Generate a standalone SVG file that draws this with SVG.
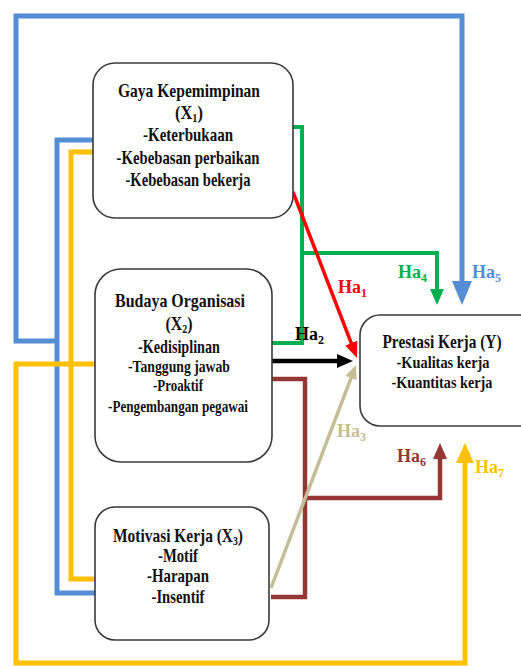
<svg xmlns="http://www.w3.org/2000/svg" width="521" height="666" viewBox="0 0 521 666">
<style>
  .box { fill: #ffffff; stroke: #3a3a3a; stroke-width: 1.6; }
  .t { font-family: "Liberation Serif", "Times New Roman", serif; font-weight: bold; font-size: 19px; fill: #111111; text-anchor: middle; }
  .s { font-size: 17px; }
  .ha { font-family: "Liberation Serif", "Times New Roman", serif; font-weight: bold; font-size: 18px; }
  .sub { font-size: 12px; }
  .c { fill: none; stroke-linejoin: miter; }
  .blue { stroke: #558ED5; stroke-width: 5; }
  .yellow { stroke: #FFC000; stroke-width: 5; }
  .green { stroke: #00B050; stroke-width: 4; }
  .red { stroke: #FF0000; stroke-width: 3.5; }
  .black { stroke: #000000; stroke-width: 4.5; }
  .maroon { stroke: #953735; stroke-width: 4.5; }
  .tan { stroke: #C4BD97; stroke-width: 3.5; }
</style>
<defs>
  <marker id="mBlue" markerUnits="userSpaceOnUse" markerWidth="24" markerHeight="20" refX="4" refY="10" orient="auto"><path d="M0,0 L24,10 L0,20 z" fill="#558ED5"/></marker>
  <marker id="mYellow" markerUnits="userSpaceOnUse" markerWidth="20" markerHeight="18" refX="4" refY="9" orient="auto"><path d="M0,0 L20,9 L0,18 z" fill="#FFC000"/></marker>
  <marker id="mGreen" markerUnits="userSpaceOnUse" markerWidth="16" markerHeight="14" refX="4" refY="7" orient="auto"><path d="M0,0 L16,7 L0,14 z" fill="#00B050"/></marker>
  <marker id="mRed" markerUnits="userSpaceOnUse" markerWidth="16" markerHeight="13" refX="4" refY="6.5" orient="auto"><path d="M0,0 L16,6.5 L0,13 z" fill="#FF0000"/></marker>
  <marker id="mBlack" markerUnits="userSpaceOnUse" markerWidth="16" markerHeight="14" refX="4" refY="7" orient="auto"><path d="M0,0 L16,7 L0,14 z" fill="#000000"/></marker>
  <marker id="mMaroon" markerUnits="userSpaceOnUse" markerWidth="16" markerHeight="14" refX="4" refY="7" orient="auto"><path d="M0,0 L16,7 L0,14 z" fill="#953735"/></marker>
  <marker id="mTan" markerUnits="userSpaceOnUse" markerWidth="14" markerHeight="12" refX="4" refY="6" orient="auto"><path d="M0,0 L14,6 L0,12 z" fill="#C4BD97"/></marker>
</defs>

<g id="connectors">
  <path class="c blue" d="M93,140 H57 V593 H95"/>
  <path class="c blue" d="M57,341 H16 V16 H462 V285" marker-end="url(#mBlue)"/>
  <path class="c yellow" d="M93,152 H71 V579 H95"/>
  <path class="c yellow" d="M95,364 H16 V663 H465 V459" marker-end="url(#mYellow)"/>
  <path class="c green" d="M293,127 H302 V343 H272"/>
  <path class="c green" d="M302,253 H437 V293" marker-end="url(#mGreen)"/>
  <path class="c maroon" d="M272,379 H305 V597 H271"/>
  <path class="c maroon" d="M305,498 H440 V455" marker-end="url(#mMaroon)"/>
  <path class="c red" d="M293,192 L352.7,346.8" marker-end="url(#mRed)"/>
  <path class="c black" d="M272,361 H341" marker-end="url(#mBlack)"/>
  <path class="c tan" d="M271,588 L352.4,374.3" marker-end="url(#mTan)"/>
</g>

<g id="node-x1">
  <rect class="box" x="93" y="63" width="200" height="155" rx="22"/>
  <text class="t" x="189" y="97" textLength="142" lengthAdjust="spacingAndGlyphs">Gaya Kepemimpinan</text>
  <text class="t" x="189" y="119" textLength="28" lengthAdjust="spacingAndGlyphs">(X<tspan class="sub" dy="3">1</tspan><tspan dy="-3">)</tspan></text>
  <text class="t" x="188" y="141" textLength="90" lengthAdjust="spacingAndGlyphs">-Keterbukaan</text>
  <text class="t" x="188" y="164" textLength="143" lengthAdjust="spacingAndGlyphs">-Kebebasan perbaikan</text>
  <text class="t" x="188" y="186" textLength="125" lengthAdjust="spacingAndGlyphs">-Kebebasan bekerja</text>
</g>

<g id="node-x2">
  <rect class="box" x="95" y="269" width="177" height="193" rx="26"/>
  <text class="t" x="180" y="307" textLength="130" lengthAdjust="spacingAndGlyphs">Budaya Organisasi</text>
  <text class="t" x="179" y="330" textLength="27" lengthAdjust="spacingAndGlyphs">(X<tspan class="sub" dy="3">2</tspan><tspan dy="-3">)</tspan></text>
  <text class="t" x="179" y="353" textLength="82" lengthAdjust="spacingAndGlyphs">-Kedisiplinan</text>
  <text class="t s" x="179" y="372" textLength="102" lengthAdjust="spacingAndGlyphs">-Tanggung jawab</text>
  <text class="t s" x="178" y="391" textLength="50" lengthAdjust="spacingAndGlyphs">-Proaktif</text>
  <text class="t s" x="178" y="412" textLength="140" lengthAdjust="spacingAndGlyphs">-Pengembangan pegawai</text>
</g>

<g id="node-x3">
  <rect class="box" x="95" y="507" width="174" height="133" rx="20"/>
  <text class="t" x="178" y="542" textLength="130" lengthAdjust="spacingAndGlyphs">Motivasi Kerja (X<tspan class="sub" dy="3">3</tspan><tspan dy="-3">)</tspan></text>
  <text class="t" x="178" y="562" textLength="40" lengthAdjust="spacingAndGlyphs">-Motif</text>
  <text class="t" x="178" y="582" textLength="62" lengthAdjust="spacingAndGlyphs">-Harapan</text>
  <text class="t" x="178" y="603" textLength="53" lengthAdjust="spacingAndGlyphs">-Insentif</text>
</g>

<g id="node-y">
  <rect class="box" x="360" y="315" width="200" height="111" rx="20"/>
  <text class="t" x="442" y="348" textLength="119" lengthAdjust="spacingAndGlyphs">Prestasi Kerja (Y)</text>
  <text class="t s" x="443" y="368" textLength="93" lengthAdjust="spacingAndGlyphs">-Kualitas kerja</text>
  <text class="t s" x="442" y="388" textLength="101" lengthAdjust="spacingAndGlyphs">-Kuantitas kerja</text>
</g>

<g id="labels">
  <text class="ha" x="338" y="293" fill="#FF0000">Ha<tspan class="sub" dy="4">1</tspan></text>
  <text class="ha" x="295" y="340" fill="#000000">Ha<tspan class="sub" dy="4">2</tspan></text>
  <text class="ha" x="337" y="437" fill="#C4BD97">Ha<tspan class="sub" dy="4">3</tspan></text>
  <text class="ha" x="398" y="278" fill="#00B050">Ha<tspan class="sub" dy="4">4</tspan></text>
  <text class="ha" x="472" y="278" fill="#558ED5">Ha<tspan class="sub" dy="4">5</tspan></text>
  <text class="ha" x="397" y="462" fill="#953735">Ha<tspan class="sub" dy="4">6</tspan></text>
  <text class="ha" x="475" y="473" fill="#FFC000">Ha<tspan class="sub" dy="4">7</tspan></text>
</g>
</svg>
